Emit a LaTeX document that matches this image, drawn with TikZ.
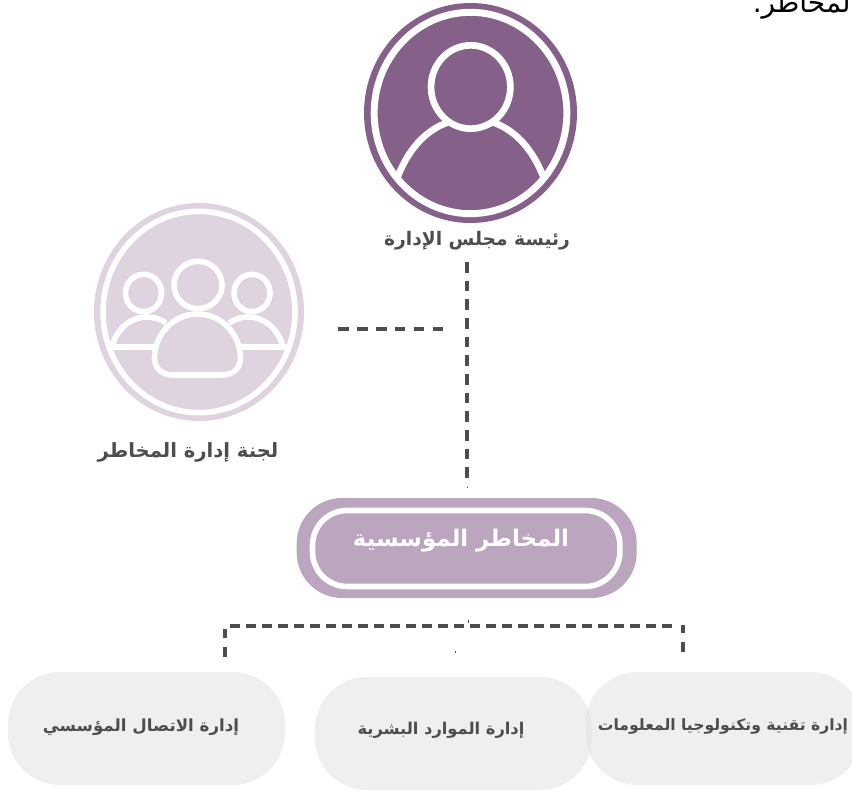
\documentclass[tikz,border=0pt]{standalone}
\usepackage{fontspec}
\usetikzlibrary{shapes.geometric}
\TeXXeTstate=1
\newfontfamily\arabicfont[Script=Arabic]{DejaVu Sans}
\definecolor{plumdark}{HTML}{856189}
\definecolor{plumlight}{HTML}{DFD3E0}
\definecolor{plummid}{HTML}{BBA5BF}
\definecolor{pillgrey}{HTML}{DFDFDF}
\definecolor{inkgrey}{HTML}{4D4D4D}
\tikzset{
  disc/.style={ellipse,inner sep=0pt,outer sep=0pt},
  whiteline/.style={draw=white,line width=#1,line join=round},
  whiteline/.default=4.5pt,
  dashv/.style={draw=inkgrey,line width=2.5pt,dash pattern=on 8pt off 6pt},
  dashh/.style={draw=inkgrey,line width=2.5pt,dash pattern=on 8pt off 6.2pt},
  dashb/.style={draw=inkgrey,line width=2.5pt,dash pattern=on 7.6pt off 4.4pt},
  speck/.style={draw=inkgrey,line width=0.7pt},
  subpill/.style={rectangle,fill=pillgrey,opacity=0.5,rounded corners=39pt,inner sep=0pt,minimum height=84.75pt,minimum width=207.75pt},
  lbl/.style={text=inkgrey,inner sep=0pt,font=\arabicfont\bfseries},
}
\begin{document}
\begin{tikzpicture}[x=0.75pt,y=-0.75pt]
\clip (0,0) rectangle (852,791);
% stray sentence end
\node[inner sep=0pt,anchor=base east,font=\arabicfont\fontsize{21}{24}\selectfont,text=black] (frag) at (851,13) {\beginR لمخاطر.\endR};
% chair
\node[disc,fill=plumdark,minimum width=159.75pt,minimum height=165pt] (chair) at (470.5,113) {};
\node[disc,whiteline=5.2pt,minimum width=144.5pt,minimum height=151pt] (chairring) at (470.5,113) {};
\node[disc,whiteline=5pt,minimum width=59.5pt,minimum height=62.5pt] (chairhead) at (470.7,87) {};
\draw[whiteline=5pt] (398,176) .. controls (410,146) and (428,129) .. (449,122);
\draw[whiteline=5pt] (543,176) .. controls (531,146) and (513,129) .. (492,122);
\node[lbl,font=\arabicfont\bfseries\fontsize{14}{16}\selectfont] (chairlabel) at (477,241) {\beginR رئيسة مجلس الإدارة\endR};
% committee
\node[disc,fill=plumlight,minimum width=157.5pt,minimum height=163.5pt] (comm) at (199,312) {};
\node[disc,whiteline=4.2pt,minimum width=144pt,minimum height=151pt] (commring) at (199,312) {};
\node[disc,whiteline=4.2pt,minimum width=27pt,minimum height=28pt] (headL) at (143.5,293) {};
\node[disc,whiteline=4.2pt,minimum width=27pt,minimum height=28pt] (headR) at (252,293) {};
\node[disc,whiteline=4.2pt,minimum width=36pt,minimum height=35.5pt] (headC) at (198,285) {};
\draw[whiteline=4.2pt] (112,347) .. controls (116,330) and (130,317) .. (147,317) .. controls (154,317) and (160,319) .. (166,323);
\draw[whiteline=4.2pt] (283,347) .. controls (279,330) and (265,317) .. (248,317) .. controls (241,317) and (235,319) .. (229,323);
\draw[whiteline=4.2pt] (110,347) -- (155,347) (240,347) -- (288,347);
\draw[whiteline=4.2pt] (197.5,314) .. controls (222,314) and (240.5,335) .. (240.5,358) .. controls (240.5,369) and (232,375) .. (222,375) -- (173,375) .. controls (163,375) and (154.5,369) .. (154.5,358) .. controls (154.5,335) and (173,314) .. (197.5,314) -- cycle;
\node[lbl,font=\arabicfont\bfseries\fontsize{14.7}{16}\selectfont] (commlabel) at (188,452) {\beginR لجنة إدارة المخاطر\endR};
% main
\node[rectangle,fill=plummid,rounded corners=34pt,minimum width=255pt,minimum height=75pt,inner sep=0pt] (main) at (466.7,548) {};
\node[rectangle,whiteline=4.2pt,rounded corners=26pt,minimum width=230.5pt,minimum height=57pt,inner sep=0pt] (mainring) at (466.2,548.5) {};
\node[lbl,text=white,font=\arabicfont\bfseries\fontsize{17.2}{20}\selectfont] (mainlabel) at (461,541) {\beginR المخاطر المؤسسية\endR};
% sub-units
\node[subpill] (comms) at (146.5,728.5) {};
\node[subpill] (hr) at (453.5,733.5) {};
\node[subpill] (it) at (724,728.5) {};
\node[lbl,font=\arabicfont\bfseries\fontsize{12.5}{14}\selectfont] (commstext) at (141,727) {\beginR إدارة الاتصال المؤسسي\endR};
\node[lbl,font=\arabicfont\bfseries\fontsize{12.2}{14}\selectfont] (hrtext) at (441,730) {\beginR إدارة الموارد البشرية\endR};
\node[lbl,font=\arabicfont\bfseries\fontsize{11.7}{14}\selectfont] (ittext) at (723,726) {\beginR إدارة تقنية وتكنولوجيا المعلومات\endR};
% connectors
\coordinate (vtop) at (467,262);
\coordinate (vbot) at (467,484);
\coordinate (hleft) at (338,329);
\coordinate (hright) at (443,329);
\coordinate (bl) at (225,657);
\coordinate (bltop) at (225,629);
\coordinate (hstart) at (230,626);
\coordinate (hend) at (675,626);
\coordinate (brtop) at (683,625);
\coordinate (br) at (683,652);
\draw[dashv] (vtop) -- (vbot);
\draw[dashh] (hleft) -- (hright);
\draw[dashb] (hstart) -- (hend);
\draw[dashb,dash pattern=on 7.5pt off 6.75pt] (bl) -- (bltop);
\draw[dashb,dash pattern=on 6pt off 6.75pt on 7.5pt off 20pt] (brtop) -- (br);
\coordinate (s1a) at (467,486.5); \coordinate (s1b) at (467,488);
\coordinate (s2a) at (468,620); \coordinate (s2b) at (468,623);
\coordinate (s3a) at (455,650.5); \coordinate (s3b) at (455,653);
\draw[speck] (s1a) -- (s1b) (s2a) -- (s2b) (s3a) -- (s3b);
\end{tikzpicture}
\end{document}
